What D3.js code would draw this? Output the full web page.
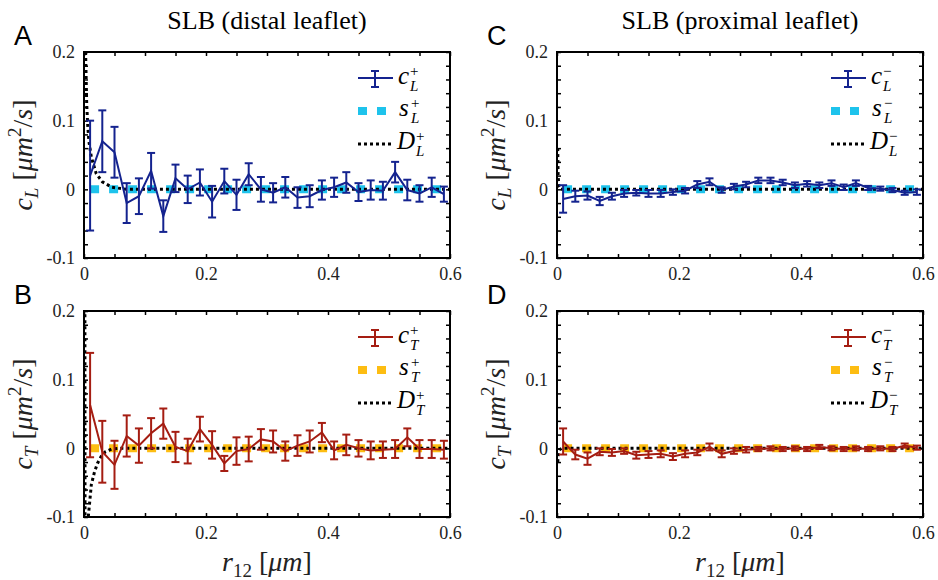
<!DOCTYPE html>
<html>
<head>
<meta charset="utf-8">
<script src="https://cdn.jsdelivr.net/npm/d3@7"></script>
<style>
  body { margin: 0; background: #fff; }
  svg { display: block; }
</style>
</head>
<body>
<div id="canvas"></div>
<script>
// separation r12 (um) of the bins
const r = [0.01, 0.03, 0.05, 0.07, 0.09, 0.11, 0.13, 0.15, 0.17, 0.19,
           0.21, 0.23, 0.25, 0.27, 0.29, 0.31, 0.33, 0.35, 0.37, 0.39,
           0.41, 0.43, 0.45, 0.47, 0.49, 0.51, 0.53, 0.55, 0.57, 0.59];

// A: c_L+ (distal, longitudinal)
const cLPlus = [0.02, 0.07, 0.054, -0.02, -0.01, 0.027, -0.039, 0.016, 0.0, 0.01,
                -0.018, 0.012, -0.008, 0.022, 0.0, -0.005, 0.003, -0.012, -0.01, -0.001,
                0.003, 0.01, -0.004, -0.001, -0.002, 0.025, -0.001, -0.006, 0.003, -0.007];
const cLPlusErr = [0.08, 0.045, 0.037, 0.029, 0.026, 0.026, 0.023, 0.02, 0.02, 0.019,
                   0.023, 0.018, 0.022, 0.016, 0.018, 0.014, 0.015, 0.015, 0.016, 0.014,
                   0.014, 0.015, 0.013, 0.014, 0.013, 0.015, 0.015, 0.012, 0.014, 0.011];

// B: c_T+ (distal, transverse)
const cTPlus = [0.063, -0.005, -0.024, 0.018, 0.004, 0.022, 0.036, 0.002, -0.004, 0.028,
                0.005, -0.022, -0.004, -0.001, 0.013, 0.01, -0.004, 0.004, 0.01, 0.023,
                -0.003, 0.005, 0.0, -0.003, -0.002, -0.001, 0.016, -0.001, -0.001, -0.002];
const cTPlusErr = [0.076, 0.045, 0.035, 0.03, 0.025, 0.022, 0.022, 0.022, 0.018, 0.018,
                   0.02, 0.011, 0.02, 0.018, 0.015, 0.016, 0.014, 0.015, 0.016, 0.014,
                   0.013, 0.015, 0.012, 0.013, 0.012, 0.013, 0.013, 0.013, 0.013, 0.013];

// C: c_L- (proximal, longitudinal)
const cLMinus = [-0.014, -0.01, -0.009, -0.017, -0.01, -0.006, -0.005, -0.006, -0.006, -0.004,
                 -0.002, 0.007, 0.011, -0.001, 0.004, 0.007, 0.013, 0.013, 0.01, 0.006,
                 0.008, 0.006, 0.009, 0.003, 0.009, 0.002, 0.001, -0.001, -0.005, -0.004];
const cLMinusErr = [0.02, 0.008, 0.006, 0.006, 0.005, 0.005, 0.004, 0.005, 0.005, 0.004,
                    0.004, 0.005, 0.005, 0.004, 0.004, 0.004, 0.004, 0.004, 0.004, 0.004,
                    0.004, 0.004, 0.004, 0.004, 0.004, 0.003, 0.003, 0.003, 0.003, 0.004];

// D: c_T- (proximal, transverse)
const cTMinus = [0.01, -0.009, -0.015, -0.005, -0.006, -0.004, -0.01, -0.009, -0.008, -0.012,
                 -0.008, -0.006, 0.002, -0.008, -0.004, -0.002, -0.001, 0.0, -0.001, 0.0,
                 -0.001, 0.002, 0.0, -0.001, 0.0, -0.001, 0.0, -0.001, 0.004, 0.001];
const cTMinusErr = [0.019, 0.007, 0.009, 0.005, 0.005, 0.004, 0.005, 0.005, 0.005, 0.005,
                    0.005, 0.004, 0.005, 0.005, 0.004, 0.004, 0.003, 0.003, 0.003, 0.003,
                    0.003, 0.003, 0.003, 0.003, 0.003, 0.003, 0.003, 0.003, 0.003, 0.003];

// s curves (all flat at zero)
const sLPlus  = r.map(() => 0);
const sTPlus  = r.map(() => 0);
const sLMinus = r.map(() => 0);
const sTMinus = r.map(() => 0);

// D curves
const dLPlusR = [0.0026, 0.0044, 0.006, 0.008, 0.012, 0.02, 0.03, 0.046, 0.07, 0.6];
const dLPlusV = [0.2, 0.125, 0.095, 0.07, 0.047, 0.023, 0.011, 0.003, 0.0, 0.0];
const dTPlusR = [0.0014, 0.0016, 0.0018, 0.0055, 0.007, 0.012, 0.017, 0.022, 0.028, 0.035, 0.045, 0.06, 0.6];
const dTPlusV = [0.3, 0.0, -0.3, -0.3, -0.1, -0.053, -0.035, -0.022, -0.012, -0.005, -0.001, 0.0, 0.0];
const dLMinusR = [0.0012, 0.0018, 0.003, 0.006, 0.6];
const dLMinusV = [0.06, 0.02, 0.005, 0.0, 0.0];
const dTMinusR = [0.0012, 0.002, 0.004, 0.008, 0.6];
const dTMinusV = [-0.02, -0.008, -0.002, 0.0, 0.0];

const xTickLabels = [0, 0.2, 0.4, 0.6];
const yTickLabels = [-0.1, 0, 0.1, 0.2];
const titles = ["SLB (distal leaflet)", "SLB (proximal leaflet)"];

const blue = "#14238f", red = "#a51d12", cyan = "#1ec3ec", yellow = "#fdbd12";

const width = 938, height = 580;
const pw = 366, ph = 206;
const SERIF = "'Liberation Serif', 'DejaVu Serif', serif";

const panels = [
  { letter: "A", left: 84, top: 52, sub: "L", sign: "+", c: cLPlus, e: cLPlusErr, s: sLPlus, dr: dLPlusR, dv: dLPlusV, col: blue, scol: cyan, xlabel: false, title: titles[0] },
  { letter: "B", left: 84, top: 311, sub: "T", sign: "+", c: cTPlus, e: cTPlusErr, s: sTPlus, dr: dTPlusR, dv: dTPlusV, col: red, scol: yellow, xlabel: true },
  { letter: "C", left: 557, top: 52, sub: "L", sign: "\u2212", c: cLMinus, e: cLMinusErr, s: sLMinus, dr: dLMinusR, dv: dLMinusV, col: blue, scol: cyan, xlabel: false, title: titles[1] },
  { letter: "D", left: 557, top: 311, sub: "T", sign: "\u2212", c: cTMinus, e: cTMinusErr, s: sTMinus, dr: dTMinusR, dv: dTMinusV, col: red, scol: yellow, xlabel: true }
];

const svg = d3.select("#canvas").append("svg")
  .attr("width", width).attr("height", height);

const x = d3.scaleLinear().domain([0, 0.6]).range([0, pw]);
const y = d3.scaleLinear().domain([-0.1, 0.2]).range([ph, 0]);
const fmt = d => (d < 0 ? "-" : "") + Math.abs(d);

panels.forEach((p, i) => {
  const g = svg.append("g").attr("transform", `translate(${p.left},${p.top})`);
  const clipId = "clip" + i;
  g.append("clipPath").attr("id", clipId)
    .append("rect").attr("width", pw).attr("height", ph);

  // panel letter
  svg.append("text")
    .attr("x", p.left - 70).attr("y", p.top - 7)
    .style("font-family", "'Liberation Sans', Arial, sans-serif")
    .style("font-size", "27px").text(p.letter);

  if (p.title) {
    svg.append("text")
      .attr("x", p.left + pw / 2).attr("y", p.top - 23)
      .attr("text-anchor", "middle")
      .style("font-family", SERIF).style("font-size", "26px")
      .text(p.title);
  }

  // minor ticks, inside the box on all sides
  const xMinor = d3.range(0, 0.6001, 0.05);
  const yMinor = d3.range(-0.1, 0.2001, 0.02);
  g.append("g").attr("transform", `translate(0,${ph})`)
    .call(d3.axisBottom(x).tickValues(xMinor).tickSize(-4).tickFormat(""));
  g.append("g")
    .call(d3.axisTop(x).tickValues(xMinor).tickSize(-4).tickFormat(""));
  g.append("g")
    .call(d3.axisLeft(y).tickValues(yMinor).tickSize(-4).tickFormat(""));
  g.append("g").attr("transform", `translate(${pw},0)`)
    .call(d3.axisRight(y).tickValues(yMinor).tickSize(-4).tickFormat(""));
  g.selectAll(".domain").remove();
  g.selectAll(".tick line").attr("stroke", "#000").attr("stroke-width", 1.5);

  // tick labels
  const xl = g.append("g").attr("transform", `translate(0,${ph})`)
    .call(d3.axisBottom(x).tickValues(xTickLabels).tickSize(0).tickPadding(9).tickFormat(fmt));
  const yl = g.append("g")
    .call(d3.axisLeft(y).tickValues(yTickLabels).tickSize(0).tickPadding(9).tickFormat(fmt));
  [xl, yl].forEach(a => {
    a.select(".domain").remove();
    a.selectAll("text")
      .style("font-family", SERIF).style("font-size", "18px").attr("fill", "#222");
  });

  const plot = g.append("g").attr("clip-path", `url(#${clipId})`);

  // s curve (thick square dashes)
  plot.append("path")
    .datum(r.map((d, k) => [d, p.s[k]]))
    .attr("fill", "none").attr("stroke", p.scol)
    .attr("stroke-width", 8).attr("stroke-dasharray", "9,10")
    .attr("d", d3.line().x(d => x(d[0])).y(d => y(d[1])));

  // D curve (dotted)
  plot.append("path")
    .datum(p.dr.map((d, k) => [d, p.dv[k]]))
    .attr("fill", "none").attr("stroke", "#000")
    .attr("stroke-width", 3).attr("stroke-dasharray", "3,3")
    .attr("d", d3.line().x(d => x(d[0])).y(d => y(d[1])));

  // c with error bars
  plot.append("path")
    .datum(r.map((d, k) => [d, p.c[k]]))
    .attr("fill", "none").attr("stroke", p.col).attr("stroke-width", 2)
    .attr("d", d3.line().x(d => x(d[0])).y(d => y(d[1])));
  const eb = plot.selectAll(".eb").data(r.map((d, k) => ({ r: d, c: p.c[k], e: p.e[k] })))
    .enter().append("g").attr("stroke", p.col).attr("stroke-width", 2);
  eb.append("line")
    .attr("x1", d => x(d.r)).attr("x2", d => x(d.r))
    .attr("y1", d => y(d.c + d.e)).attr("y2", d => y(d.c - d.e));
  eb.append("line")
    .attr("x1", d => x(d.r) - 4).attr("x2", d => x(d.r) + 4)
    .attr("y1", d => y(d.c + d.e)).attr("y2", d => y(d.c + d.e));
  eb.append("line")
    .attr("x1", d => x(d.r) - 4).attr("x2", d => x(d.r) + 4)
    .attr("y1", d => y(d.c - d.e)).attr("y2", d => y(d.c - d.e));

  // box
  g.append("rect").attr("width", pw).attr("height", ph)
    .attr("fill", "none").attr("stroke", "#000").attr("stroke-width", 2);

  // legend
  const lg = g.append("g").attr("transform", `translate(${pw - 92},26)`);
  lg.append("line").attr("x1", 0).attr("x2", 35).attr("y1", 0).attr("y2", 0)
    .attr("stroke", p.col).attr("stroke-width", 2);
  lg.append("line").attr("x1", 17).attr("x2", 17).attr("y1", -7).attr("y2", 9)
    .attr("stroke", p.col).attr("stroke-width", 2);
  [-7, 9].forEach(v => lg.append("line").attr("x1", 13).attr("x2", 21)
    .attr("y1", v).attr("y2", v).attr("stroke", p.col).attr("stroke-width", 2));
  lg.append("line").attr("x1", 0).attr("x2", 29).attr("y1", 33).attr("y2", 33)
    .attr("stroke", p.scol).attr("stroke-width", 8).attr("stroke-dasharray", "9,10");
  lg.append("line").attr("x1", 0).attr("x2", 35).attr("y1", 66).attr("y2", 66)
    .attr("stroke", "#000").attr("stroke-width", 3).attr("stroke-dasharray", "3,3");

  const sym = [["c", 6, 40], ["s", 38, 41], ["D", 71, 39]];
  sym.forEach(([ch, base, dx]) => {
    const t = lg.append("text")
      .attr("x", dx).attr("y", base)
      .style("font-family", SERIF).style("font-size", "25px");
    t.append("tspan").attr("font-style", "italic").text(ch);
    const sx = dx + (ch === "D" ? 19 : 12);
    t.append("tspan").attr("x", sx).attr("dy", -8).style("font-size", "15px").text(p.sign);
    t.append("tspan").attr("x", sx).attr("dy", 15).style("font-size", "15px")
      .attr("font-style", "italic").text(p.sub);
  });

  // y axis label
  const yt = svg.append("text")
    .attr("transform", `translate(${p.left - 52},${p.top + ph / 2}) rotate(-90)`)
    .attr("text-anchor", "middle")
    .style("font-family", SERIF).style("font-size", "28px").attr("fill", "#222");
  yt.append("tspan").attr("font-style", "italic").text("c");
  yt.append("tspan").attr("font-style", "italic").style("font-size", "19px").attr("dy", 6).text(p.sub);
  yt.append("tspan").attr("dy", -6).text(" [");
  yt.append("tspan").attr("font-style", "italic").text("\u03bcm");
  yt.append("tspan").style("font-size", "19px").attr("dy", -11).text("2");
  yt.append("tspan").attr("dy", 11).text("/");
  yt.append("tspan").attr("font-style", "italic").text("s");
  yt.append("tspan").text("]");

  if (p.xlabel) {
    const xt = svg.append("text")
      .attr("x", p.left + pw / 2).attr("y", p.top + ph + 54)
      .attr("text-anchor", "middle")
      .style("font-family", SERIF).style("font-size", "28px").attr("fill", "#222");
    xt.append("tspan").attr("font-style", "italic").text("r");
    xt.append("tspan").style("font-size", "19px").attr("dy", 6).text("12");
    xt.append("tspan").attr("dy", -6).text(" [");
    xt.append("tspan").attr("font-style", "italic").text("\u03bcm");
    xt.append("tspan").text("]");
  }
});
</script>
</body>
</html>
